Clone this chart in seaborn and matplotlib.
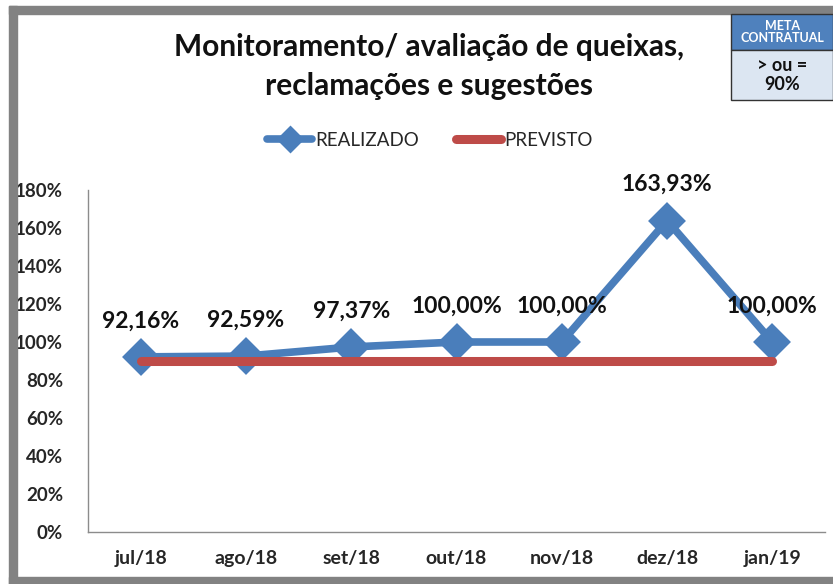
import matplotlib
matplotlib.use("Agg")
import matplotlib.pyplot as plt
from matplotlib.patches import Rectangle
from matplotlib.lines import Line2D
import seaborn as sns
import pandas as pd

months = ["jul/18", "ago/18", "set/18", "out/18", "nov/18", "dez/18", "jan/19"]
realizado = [92.16, 92.59, 97.37, 100.00, 100.00, 163.93, 100.00]
previsto = [90.0, 90.0, 90.0, 90.0, 90.0, 90.0, 90.0]
y_ticks = [0, 20, 40, 60, 80, 100, 120, 140, 160, 180]

sns.set_style("white")
plt.rcParams["font.family"] = ["Lato", "DejaVu Sans"]

BLUE = "#4A7EBB"
RED = "#BE4B48"

df = pd.DataFrame({
    "pos": range(len(months)),
    "realizado": [v / 100 for v in realizado],
    "previsto": [v / 100 for v in previsto],
})

fig = plt.figure(figsize=(8.33, 5.84), dpi=100)
ax = fig.add_axes([88 / 833, 1 - 532 / 584, (825 - 88) / 833, (532 - 190) / 584])

sns.lineplot(data=df, x="pos", y="realizado", ax=ax, color=BLUE, linewidth=5.5,
             marker="D", markersize=16, markeredgewidth=3, markeredgecolor=BLUE,
             markerfacecolor=BLUE, solid_joinstyle="round", zorder=3)
for ln in ax.lines:
    ln.set_solid_capstyle("round")
    ln.set_markeredgecolor(BLUE)
sns.lineplot(data=df, x="pos", y="previsto", ax=ax, color=RED, linewidth=6.5,
             solid_capstyle="round", zorder=4)

for i, v in enumerate(realizado):
    ax.annotate(f"{v:.2f}%".replace(".", ","), (i, v / 100), xytext=(0, 26),
                textcoords="offset points", ha="center", va="center",
                fontsize=16.5, fontweight="bold", color="#111111", zorder=5)

ax.set_xlim(-0.5, len(months) - 0.5)
ax.set_ylim(0, 1.8)
ax.set_xticks(range(len(months)))
ax.set_xticklabels(months, fontsize=14, fontweight="bold")
ax.set_yticks([t / 100 for t in y_ticks])
ax.set_yticklabels([f"{t}%" for t in y_ticks], fontsize=13.5, fontweight="bold")
ax.tick_params(axis="both", length=0)
ax.tick_params(axis="x", pad=13)
ax.tick_params(axis="y", pad=18)
ax.set_xlabel("")
ax.set_ylabel("")
for s in ["top", "right"]:
    ax.spines[s].set_visible(False)
for s in ["left", "bottom"]:
    ax.spines[s].set_color("#8C8C8C")
    ax.spines[s].set_linewidth(1)

# Legend
handles = [
    Line2D([], [], color=BLUE, linewidth=5.5, marker="D", markersize=12,
           markeredgewidth=2, solid_capstyle="round"),
    Line2D([], [], color=RED, linewidth=6.5, solid_capstyle="round"),
]
fig.legend(handles, ["REALIZADO", "PREVISTO"], loc="center",
           bbox_to_anchor=(430 / 833, 1 - 140 / 584), ncol=2, frameon=False,
           fontsize=13.5, handlelength=2.4, handletextpad=0.15, columnspacing=2.0)

# Title
fig.text(429 / 833, 1 - 47 / 584, "Monitoramento/ avaliação de queixas,",
         ha="center", va="center", fontsize=21.5, fontweight="bold", color="#111111")
fig.text(429 / 833, 1 - 86 / 584, "reclamações e sugestões",
         ha="center", va="center", fontsize=21.5, fontweight="bold", color="#111111")

# Frame bands
GRAY = "#828282"
fig.patches.append(Rectangle((9 / 833, 1 - 14 / 584), 824 / 833, 8 / 584,
                             transform=fig.transFigure, color=GRAY, zorder=0))
fig.patches.append(Rectangle((9 / 833, 0), 8 / 833, 1 - 6 / 584,
                             transform=fig.transFigure, color=GRAY, zorder=0))
fig.patches.append(Rectangle((9 / 833, 0), 824 / 833, 7 / 584,
                             transform=fig.transFigure, color=GRAY, zorder=0))

# Target box
fig.patches.append(Rectangle((731 / 833, 1 - 50 / 584), 102 / 833, 36 / 584,
                             transform=fig.transFigure, facecolor="#4F81BD",
                             edgecolor="#333333", linewidth=1, zorder=2))
fig.patches.append(Rectangle((731 / 833, 1 - 100 / 584), 102 / 833, 50 / 584,
                             transform=fig.transFigure, facecolor="#DCE6F2",
                             edgecolor="#333333", linewidth=1, zorder=2))
fig.text(782 / 833, 1 - 32 / 584, "META\nCONTRATUAL", ha="center", va="center",
         fontsize=9, fontweight="bold", color="white", linespacing=1.1, zorder=3)
fig.text(782 / 833, 1 - 75 / 584, "> ou =\n90%", ha="center", va="center",
         fontsize=13, fontweight="bold", color="#111111", linespacing=1.15, zorder=3)

fig.savefig("out.png", dpi=100)
